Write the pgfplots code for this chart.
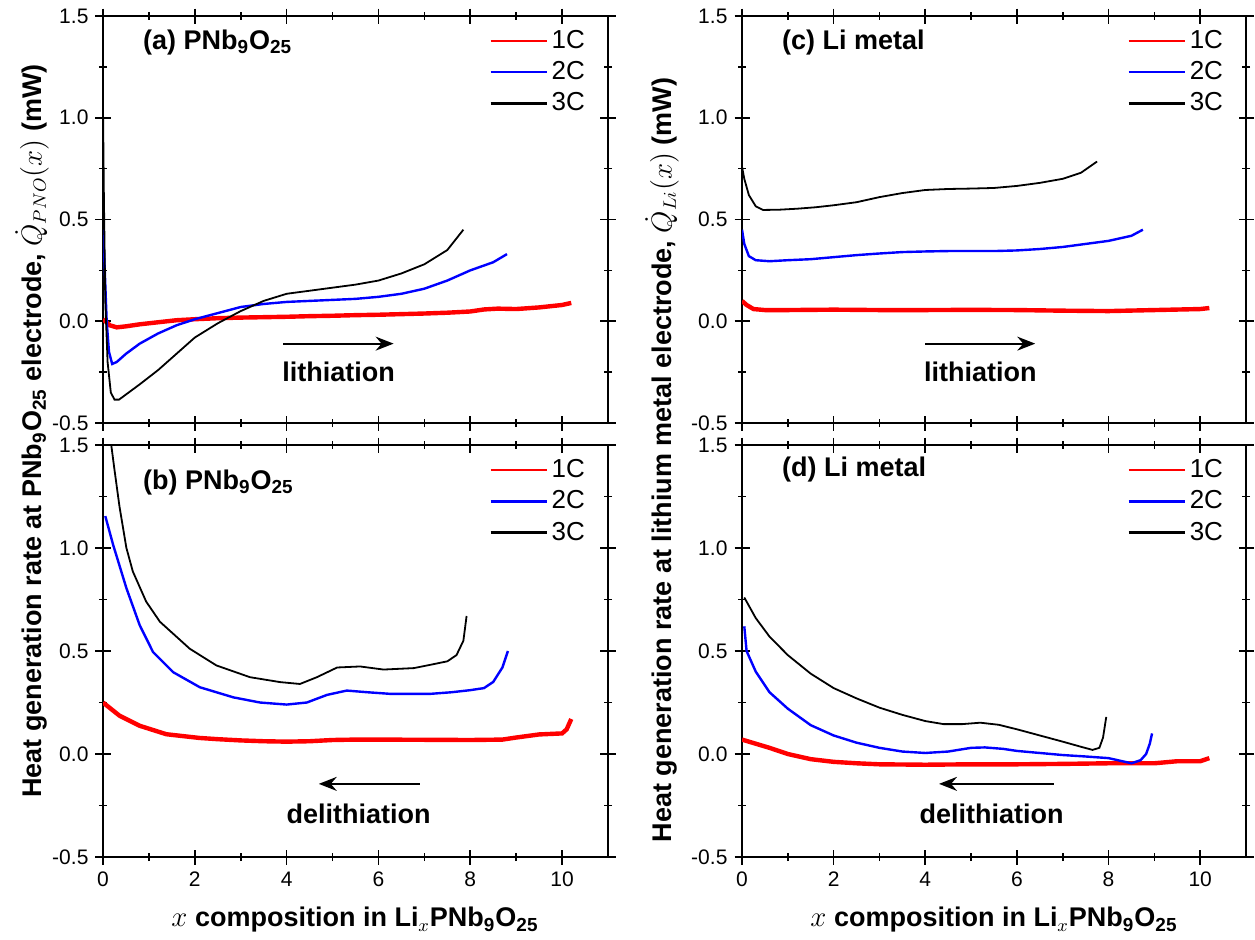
\documentclass[border=0pt]{standalone}
\usepackage{fontspec}
\setmainfont{Liberation Sans}
\usepackage{pgfplots}
\pgfplotsset{compat=1.18}
\usetikzlibrary{arrows.meta}

\pgfplotsset{
  panel/.style={
    scale only axis,
    xmin=0, xmax=11, ymin=-0.5, ymax=1.5,
    xtick={0,2,4,6,8,10},
    ytick={-0.5,0,0.5,1,1.5},
    yticklabels={-0.5,0.0,0.5,1.0,1.5},
    minor x tick num=1, minor y tick num=1,
    tick align=center,
    major tick length=7.5pt, minor tick length=4pt,
    axis line style={line width=1pt},
    every tick/.style={black, line width=0.8pt},
    tick label style={font=\fontsize{10.5}{12}\selectfont},
    /pgf/number format/assume math mode=true,
    legend style={draw=none, fill=none, at={(0.975,0.985)}, anchor=north east,
      font=\fontsize{13}{15}\selectfont, row sep=1pt},
    legend cell align=left,
    legend image code/.code={\draw[#1,line width=1.2pt] (0pt,0pt) -- (28pt,0pt);},
  },
  c1/.style={red, line width=2.2pt},
  c2/.style={blue, line width=1.2pt},
  c3/.style={black, line width=0.9pt},
}
\tikzset{
  plab/.style={anchor=west, font=\bfseries\fontsize{13.5}{16}\selectfont},
  blab/.style={font=\bfseries\fontsize{13.5}{16}\selectfont},
  arr/.style={-{Stealth[length=9pt,width=7pt,inset=3pt]}, line width=1pt},
}

\begin{document}
\begin{tikzpicture}
% (a)
\begin{axis}[panel, width=252.5pt, height=203.5pt, at={(51.5pt,-8pt)}, anchor=north west, xticklabels={}]
\addplot[c1] coordinates {(0,0.01) (0.05,0.0) (0.15,-0.02) (0.3,-0.03) (0.5,-0.025) (0.8,-0.015) (1.2,-0.005) (1.6,0.005) (2,0.01) (2.5,0.015) (3,0.018) (3.5,0.02) (4,0.022) (4.5,0.025) (5,0.027) (5.5,0.03) (6,0.032) (6.5,0.035) (7,0.038) (7.5,0.042) (8,0.048) (8.3,0.058) (8.6,0.062) (9,0.06) (9.5,0.068) (10,0.08) (10.2,0.09)};
\addlegendentry{1C}
\addplot[c2] coordinates {(0,0.45) (0.03,0.3) (0.08,0.0) (0.13,-0.15) (0.2,-0.21) (0.3,-0.2) (0.5,-0.16) (0.8,-0.11) (1.2,-0.06) (1.6,-0.02) (2,0.01) (2.5,0.04) (3,0.07) (3.5,0.085) (4,0.095) (4.5,0.1) (5,0.105) (5.5,0.11) (6,0.12) (6.5,0.135) (7,0.16) (7.5,0.2) (8,0.25) (8.5,0.29) (8.8,0.33)};
\addlegendentry{2C}
\addplot[c3] coordinates {(0,1.05) (0.02,0.6) (0.05,0.1) (0.1,-0.2) (0.17,-0.35) (0.25,-0.385) (0.35,-0.385) (0.5,-0.36) (0.8,-0.31) (1.2,-0.24) (1.6,-0.16) (2,-0.08) (2.5,-0.01) (3,0.05) (3.5,0.1) (4,0.135) (4.5,0.15) (5,0.165) (5.5,0.18) (6,0.2) (6.5,0.235) (7,0.28) (7.5,0.35) (7.85,0.45)};
\addlegendentry{3C}
\node[plab] at (axis cs:0.72,1.37) {(a) PNb\textsubscript{9}O\textsubscript{25}};
\draw[arr] (axis cs:3.93,-0.11) -- (axis cs:6.33,-0.11);
\node[blab] at (axis cs:5.13,-0.25) {lithiation};
\end{axis}
% (b)
\begin{axis}[panel, width=252.5pt, height=206pt, at={(51.5pt,-222.5pt)}, anchor=north west, xticklabels={0,2,4,6,8,10}]
\addplot[c1] coordinates {(0,0.25) (0.36,0.186) (0.8,0.137) (1.38,0.096) (2.1,0.078) (2.5,0.072) (3,0.066) (3.5,0.062) (4,0.06) (4.5,0.062) (5,0.068) (5.5,0.07) (6,0.07) (7,0.069) (8,0.068) (8.7,0.07) (9,0.08) (9.5,0.095) (10,0.1) (10.1,0.12) (10.2,0.17)};
\addlegendentry{1C}
\addplot[c2] coordinates {(0.05,1.155) (0.22,1.016) (0.51,0.805) (0.8,0.625) (1.09,0.495) (1.53,0.397) (2.11,0.324) (2.84,0.275) (3.42,0.25) (4.0,0.24) (4.44,0.25) (4.88,0.287) (5.31,0.308) (5.75,0.3) (6.26,0.292) (7.13,0.292) (7.6,0.3) (8,0.31) (8.3,0.32) (8.5,0.35) (8.7,0.42) (8.82,0.5)};
\addlegendentry{2C}
\addplot[c3] coordinates {(0.12,1.6) (0.18,1.5) (0.25,1.38) (0.36,1.2) (0.51,1.0) (0.65,0.886) (0.94,0.74) (1.24,0.642) (1.89,0.511) (2.47,0.43) (3.2,0.373) (3.86,0.349) (4.29,0.34) (4.66,0.373) (5.1,0.42) (5.6,0.425) (6.11,0.41) (6.77,0.417) (7.13,0.433) (7.5,0.45) (7.7,0.48) (7.85,0.55) (7.92,0.67)};
\addlegendentry{3C}
\node[plab] at (axis cs:0.72,1.32) {(b) PNb\textsubscript{9}O\textsubscript{25}};
\draw[arr] (axis cs:6.9,-0.145) -- (axis cs:4.7,-0.145);
\node[blab] at (axis cs:5.57,-0.29) {delithiation};
\end{axis}
% (c)
\begin{axis}[panel, width=252pt, height=203.5pt, at={(371pt,-8pt)}, anchor=north west, xticklabels={}]
\addplot[c1] coordinates {(0,0.1) (0.1,0.08) (0.25,0.06) (0.5,0.055) (1,0.055) (2,0.057) (3,0.055) (4,0.055) (5,0.056) (6,0.055) (7,0.052) (8,0.05) (9,0.055) (10,0.06) (10.2,0.065)};
\addlegendentry{1C}
\addplot[c2] coordinates {(0,0.45) (0.05,0.38) (0.15,0.32) (0.3,0.3) (0.6,0.295) (1,0.3) (1.5,0.305) (2,0.315) (2.5,0.325) (3,0.333) (3.5,0.34) (4,0.343) (4.5,0.345) (5,0.345) (5.5,0.345) (6,0.348) (6.5,0.355) (7,0.365) (7.5,0.38) (8,0.395) (8.5,0.42) (8.75,0.45)};
\addlegendentry{2C}
\addplot[c3] coordinates {(0,0.76) (0.05,0.7) (0.15,0.62) (0.3,0.565) (0.46,0.547) (0.8,0.548) (1.2,0.553) (1.6,0.56) (2,0.57) (2.5,0.585) (3,0.61) (3.5,0.63) (4,0.645) (4.5,0.65) (5,0.652) (5.5,0.655) (6,0.665) (6.5,0.68) (7,0.7) (7.4,0.73) (7.75,0.785)};
\addlegendentry{3C}
\node[plab] at (axis cs:0.72,1.37) {(c) Li metal};
\draw[arr] (axis cs:4.0,-0.11) -- (axis cs:6.4,-0.11);
\node[blab] at (axis cs:5.2,-0.25) {lithiation};
\end{axis}
% (d)
\begin{axis}[panel, width=252pt, height=206pt, at={(371pt,-222.5pt)}, anchor=north west, xticklabels={0,2,4,6,8,10}]
\addplot[c1] coordinates {(0,0.07) (0.3,0.05) (0.6,0.03) (1,0.0) (1.5,-0.025) (2,-0.038) (2.5,-0.045) (3,-0.05) (4,-0.052) (5,-0.05) (6,-0.05) (7,-0.048) (8,-0.045) (9,-0.045) (9.5,-0.035) (10,-0.035) (10.2,-0.02)};
\addlegendentry{1C}
\addplot[c2] coordinates {(0.05,0.62) (0.1,0.5) (0.3,0.4) (0.6,0.3) (1,0.22) (1.5,0.14) (2,0.09) (2.5,0.055) (3,0.03) (3.5,0.012) (4,0.005) (4.5,0.012) (5,0.03) (5.3,0.032) (5.7,0.025) (6,0.015) (6.5,0.005) (7,-0.005) (7.5,-0.012) (8,-0.02) (8.3,-0.035) (8.5,-0.045) (8.7,-0.03) (8.82,0.0) (8.9,0.05) (8.95,0.1)};
\addlegendentry{2C}
\addplot[c3] coordinates {(0.05,0.76) (0.3,0.66) (0.6,0.57) (1,0.48) (1.5,0.39) (2,0.32) (2.5,0.27) (3,0.225) (3.5,0.19) (4,0.16) (4.4,0.145) (4.8,0.145) (5.2,0.152) (5.6,0.142) (6,0.12) (6.5,0.09) (7,0.06) (7.4,0.035) (7.65,0.02) (7.8,0.03) (7.88,0.08) (7.95,0.18)};
\addlegendentry{3C}
\node[plab] at (axis cs:0.72,1.38) {(d) Li metal};
\draw[arr] (axis cs:6.8,-0.145) -- (axis cs:4.3,-0.145);
\node[blab] at (axis cs:5.45,-0.29) {delithiation};
\end{axis}
% axis labels
\node[rotate=90, font=\bfseries\fontsize{13.5}{16}\selectfont] at (16pt,-215.5pt) {Heat generation rate at PNb\textsubscript{9}O\textsubscript{25} electrode, $\dot{Q}_{PNO}(x)$ (mW)};
\node[rotate=90, font=\bfseries\fontsize{13.5}{16}\selectfont] at (331pt,-230pt) {Heat generation rate at lithium metal electrode, $\dot{Q}_{Li}(x)$ (mW)};
\node[font=\bfseries\fontsize{13.5}{16}\selectfont] at (177.5pt,-460pt) {$x$ composition in Li\textsubscript{$x$}PNb\textsubscript{9}O\textsubscript{25}};
\node[font=\bfseries\fontsize{13.5}{16}\selectfont] at (497pt,-460pt) {$x$ composition in Li\textsubscript{$x$}PNb\textsubscript{9}O\textsubscript{25}};
\pgfresetboundingbox
\useasboundingbox (0,0) rectangle (627.5pt,-469.5pt);
\end{tikzpicture}
\end{document}
